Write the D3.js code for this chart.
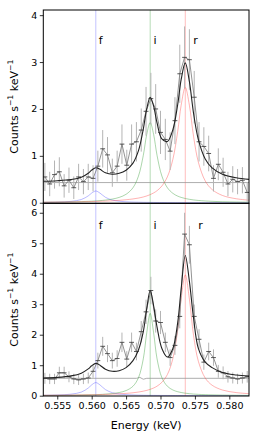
<!DOCTYPE html>
<html>
<head>
<meta charset="utf-8">
<script src="https://cdn.jsdelivr.net/npm/d3@7"></script>
<style>
  body { margin: 0; background: #fff; }
  svg { display: block; font-family: "DejaVu Sans", sans-serif; }
</style>
</head>
<body>
<svg id="chart" width="259" height="442"></svg>
<script>
// binned spectrum (keV bin centres) for both observations
const energy = [0.5532,0.5539,0.5546,0.5553,0.5560,0.5567,0.5574,0.5581,0.5588,0.5595,0.5602,0.5609,0.5616,0.5623,0.5630,0.5637,0.5644,0.5651,0.5658,0.5665,0.5672,0.5679,0.5686,0.5693,0.5700,0.5707,0.5714,0.5721,0.5728,0.5735,0.5742,0.5749,0.5756,0.5763,0.5770,0.5777,0.5784,0.5791,0.5798,0.5805,0.5812,0.5819,0.5826];
const binHalf = 0.00035;

const rateTop = [0.55,0.40,0.60,0.66,0.36,0.48,0.32,0.55,0.45,0.55,0.52,0.78,1.15,1.02,0.64,0.78,1.25,0.80,1.25,1.30,1.55,1.95,2.22,2.00,1.50,1.35,1.10,1.75,2.75,3.10,3.05,2.25,1.30,1.20,1.05,0.52,0.82,0.65,0.40,0.50,0.45,0.48,0.22];
const errTop  = [0.30,0.26,0.30,0.31,0.25,0.27,0.24,0.28,0.27,0.28,0.28,0.33,0.40,0.38,0.30,0.33,0.42,0.33,0.42,0.42,0.46,0.52,0.55,0.53,0.46,0.44,0.40,0.50,0.62,0.66,0.65,0.56,0.42,0.41,0.38,0.28,0.34,0.31,0.26,0.28,0.27,0.28,0.20];

const rateBot = [0.57,0.55,0.55,0.75,0.75,0.62,0.55,0.52,0.55,0.58,0.80,1.15,1.62,1.38,1.15,1.22,1.75,1.20,1.75,1.45,2.10,2.75,3.45,2.45,2.40,1.75,1.25,1.65,2.60,5.30,4.95,2.60,1.85,1.10,1.45,1.25,0.80,0.75,0.62,0.58,0.55,0.58,0.62];
const errBot  = [0.18,0.17,0.17,0.20,0.20,0.18,0.17,0.17,0.17,0.18,0.21,0.26,0.31,0.28,0.26,0.27,0.32,0.26,0.32,0.29,0.35,0.40,0.45,0.38,0.38,0.32,0.27,0.31,0.39,0.70,0.62,0.39,0.33,0.25,0.29,0.27,0.21,0.21,0.19,0.18,0.17,0.18,0.19];

// model curves sampled on a common grid
const modelE = [0.5530,0.5550,0.5570,0.5585,0.5595,0.5600,0.5606,0.5612,0.5620,0.5630,0.5640,0.5650,0.5660,0.5668,0.5675,0.5680,0.5685,0.5690,0.5695,0.5702,0.5710,0.5718,0.5725,0.5730,0.5736,0.5742,0.5748,0.5755,0.5765,0.5775,0.5790,0.5810,0.5830];

const modelTop = [0.459,0.470,0.495,0.544,0.630,0.695,0.747,0.712,0.638,0.607,0.627,0.694,0.844,1.110,1.571,2.000,2.250,2.060,1.701,1.360,1.307,1.560,2.095,2.624,2.982,2.583,1.910,1.347,0.934,0.742,0.608,0.532,0.496];
const fTop = [0.007,0.013,0.029,0.069,0.146,0.206,0.250,0.206,0.116,0.057,0.032,0.020,0.014,0.011,0.009,0.008,0.007,0.006,0.005,0.005,0.004,0.003,0.003,0.003,0.003,0.002,0.002,0.002,0.002,0.002,0.001,0.001,0.001];
const iTop = [0.010,0.013,0.018,0.024,0.030,0.033,0.039,0.045,0.056,0.078,0.114,0.180,0.320,0.569,1.009,1.457,1.710,1.457,1.009,0.569,0.320,0.200,0.141,0.114,0.090,0.073,0.060,0.049,0.038,0.030,0.022,0.016,0.012];
const rTop = [0.011,0.014,0.017,0.021,0.024,0.026,0.028,0.031,0.035,0.042,0.051,0.064,0.081,0.100,0.123,0.145,0.172,0.209,0.257,0.357,0.553,0.927,1.521,2.078,2.460,2.078,1.418,0.866,0.465,0.281,0.155,0.085,0.053];

const modelBot = [0.58,0.60,0.65,0.74,0.88,0.98,1.06,1.00,0.87,0.80,0.82,0.92,1.15,1.50,2.10,2.85,3.45,2.95,2.25,1.55,1.27,1.55,2.40,3.50,4.60,3.75,2.55,1.55,1.10,0.92,0.76,0.68,0.64];
const fBot = [0.012,0.022,0.050,0.119,0.251,0.354,0.430,0.354,0.200,0.098,0.055,0.034,0.024,0.018,0.015,0.013,0.011,0.010,0.009,0.008,0.007,0.006,0.005,0.005,0.004,0.004,0.004,0.003,0.003,0.003,0.002,0.002,0.001];
const iBot = [0.009,0.012,0.016,0.022,0.027,0.030,0.035,0.040,0.051,0.071,0.104,0.168,0.310,0.591,1.208,2.063,2.700,2.063,1.208,0.591,0.310,0.187,0.130,0.104,0.082,0.066,0.054,0.044,0.034,0.027,0.020,0.014,0.010];
const rBot = [0.013,0.016,0.021,0.025,0.029,0.031,0.033,0.037,0.042,0.050,0.061,0.076,0.096,0.120,0.148,0.174,0.208,0.252,0.313,0.439,0.695,1.218,2.152,3.168,3.960,3.168,1.980,1.129,0.579,0.343,0.186,0.102,0.064];

// continuum levels
const contTopE = [0.553, 0.583];
const contTop  = [0.43, 0.43];
const contBotE = [0.553, 0.5665, 0.5670, 0.5675, 0.5680, 0.583];
const contBot  = [0.57, 0.57, 0.60, 0.54, 0.57, 0.57];

// O VII triplet line positions
const lineNames = ["f", "i", "r"];
const lineE = [0.5606, 0.5685, 0.5736];
const lineColors = ["#6060ff", "#40a040", "#ff5050"];

const xTicks = [0.555, 0.560, 0.565, 0.570, 0.575, 0.580];
const yTicksTop = [0, 1, 2, 3, 4];
const yTicksBot = [0, 1, 2, 3, 4, 5, 6];

const svg = d3.select("#chart");
const left = 43.3, right = 249;

const x = d3.scaleLinear().domain([0.55297, 0.58286]).range([left, right]);

const panels = [
  { top: 10, bottom: 203.3, domain: [-0.012, 4.11], ticks: yTicksTop,
    rate: rateTop, err: errTop, model: modelTop, comps: [fTop, iTop, rTop],
    contE: contTopE, cont: contTop, labelY: 44, rShift: 0.0015 },
  { top: 203.3, bottom: 396, domain: [-0.01, 6.31], ticks: yTicksBot,
    rate: rateBot, err: errBot, model: modelBot, comps: [fBot, iBot, rBot],
    contE: contBotE, cont: contBot, labelY: 229, rShift: 0.0022 }
];

panels.forEach((p, pi) => {
  const y = d3.scaleLinear().domain(p.domain).range([p.bottom, p.top]);
  const clipId = "clip" + pi;
  svg.append("clipPath").attr("id", clipId)
    .append("rect")
      .attr("x", left).attr("y", p.top)
      .attr("width", right - left).attr("height", p.bottom - p.top);

  const g = svg.append("g").attr("clip-path", `url(#${clipId})`);

  // vertical line markers
  g.selectAll(".vline").data(lineE).enter().append("line")
    .attr("x1", d => x(d)).attr("x2", d => x(d))
    .attr("y1", p.top).attr("y2", p.bottom)
    .attr("stroke", (d, i) => lineColors[i])
    .attr("stroke-opacity", 0.55)
    .attr("stroke-width", 0.7);

  // continuum
  const cont = d3.line().x((d, i) => x(p.contE[i])).y(d => y(d));
  g.append("path").datum(p.cont)
    .attr("d", cont)
    .attr("fill", "none").attr("stroke", "#999").attr("stroke-width", 0.8);

  // components
  const curve = d3.line()
    .x((d, i) => x(modelE[i])).y(d => y(d))
    .curve(d3.curveCatmullRom.alpha(0.5));
  p.comps.forEach((c, ci) => {
    g.append("path").datum(c)
      .attr("d", curve)
      .attr("fill", "none")
      .attr("stroke", lineColors[ci])
      .attr("stroke-opacity", 0.55)
      .attr("stroke-width", 0.8);
  });

  // error bars
  g.selectAll(".eb").data(p.rate).enter().append("line")
    .attr("x1", (d, i) => x(energy[i])).attr("x2", (d, i) => x(energy[i]))
    .attr("y1", (d, i) => y(d - p.err[i])).attr("y2", (d, i) => y(d + p.err[i]))
    .attr("stroke", "#b4b4b4").attr("stroke-width", 1);

  // data polyline
  g.append("path").datum(p.rate)
    .attr("d", d3.line().x((d, i) => x(energy[i])).y(d => y(d)))
    .attr("fill", "none").attr("stroke", "#777").attr("stroke-width", 0.8);

  // bin width ticks
  g.selectAll(".xb").data(p.rate).enter().append("line")
    .attr("x1", (d, i) => x(energy[i] - binHalf)).attr("x2", (d, i) => x(energy[i] + binHalf))
    .attr("y1", d => y(d)).attr("y2", d => y(d))
    .attr("stroke", "#444").attr("stroke-width", 0.9);

  // total model
  g.append("path").datum(p.model)
    .attr("d", curve)
    .attr("fill", "none").attr("stroke", "#222").attr("stroke-width", 1.1);

  // line labels
  svg.selectAll(".lbl" + pi).data(lineNames).enter().append("text")
    .attr("x", (d, i) => x(lineE[i] + (i === 2 ? p.rShift : 0.0007)))
    .attr("y", p.labelY)
    .attr("font-size", 11)
    .attr("text-anchor", "middle")
    .text(d => d);

  // y axis
  const yAxis = svg.append("g")
    .attr("transform", `translate(${left},0)`)
    .call(d3.axisLeft(y).tickValues(p.ticks).tickFormat(d3.format("d")).tickSize(3.5).tickPadding(2.5));
  yAxis.select(".domain").remove();
  yAxis.selectAll("line").attr("stroke-width", 0.8);
  yAxis.selectAll("text").attr("font-size", 9.5).attr("font-family", "DejaVu Sans");

  // frame
  svg.append("rect")
    .attr("x", left).attr("y", p.top)
    .attr("width", right - left).attr("height", p.bottom - p.top)
    .attr("fill", "none").attr("stroke", "#000").attr("stroke-width", 1);

  // y title
  const yt = svg.append("text")
    .attr("transform", `translate(14,${(p.top + p.bottom) / 2}) rotate(-90)`)
    .attr("text-anchor", "middle")
    .attr("dominant-baseline", "central")
    .attr("font-size", 11);
  yt.append("tspan").text("Counts s");
  yt.append("tspan").attr("dy", -4).attr("font-size", 7.7).text("\u22121");
  yt.append("tspan").attr("dy", 4).text(" keV");
  yt.append("tspan").attr("dy", -4).attr("font-size", 7.7).text("\u22121");
});

// x axis on the lower panel
const xAxis = svg.append("g")
  .attr("transform", `translate(0,396)`)
  .call(d3.axisBottom(x).tickValues(xTicks).tickFormat(d3.format(".3f")).tickSize(3.5).tickPadding(2.5));
xAxis.select(".domain").remove();
xAxis.selectAll("line").attr("stroke-width", 0.8);
xAxis.selectAll("text").attr("font-size", 9.5).attr("font-family", "DejaVu Sans");

svg.append("text")
  .attr("x", (left + right) / 2)
  .attr("y", 429)
  .attr("text-anchor", "middle")
  .attr("font-size", 11)
  .text("Energy (keV)");
</script>
</body>
</html>
